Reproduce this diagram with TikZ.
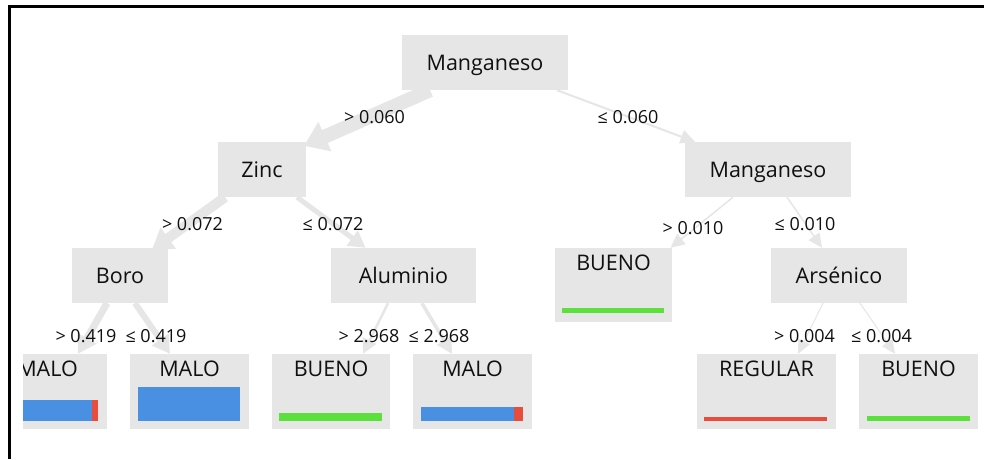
\documentclass[tikz,border=0pt]{standalone}
\usepackage{fontspec}
\setmainfont{Open Sans}
\usetikzlibrary{arrows.meta}
\definecolor{boxg}{HTML}{E6E6E6}
\definecolor{edgeg}{HTML}{E6E6E6}
\definecolor{barblue}{HTML}{4A90E2}
\definecolor{barred}{HTML}{E84C3D}
\definecolor{bargreen}{HTML}{5CE03C}
\definecolor{txt}{HTML}{101010}
\begin{document}
\begin{tikzpicture}[x=1pt,y=-1pt,
  innernode/.style={fill=boxg, inner sep=0pt, text=txt,
    font=\fontsize{21.5}{24}\selectfont, text height=15.4pt, text depth=0pt,
    minimum height=55pt},
  leafnode/.style={fill=boxg, inner sep=0pt, text=txt,
    font=\fontsize{21.5}{24}\selectfont, text height=22pt, text depth=53pt},
  elab/.style={inner sep=0pt, text=txt, font=\fontsize{18}{20}\selectfont, anchor=base},
  edgeline/.style={draw=edgeg, line width=#1,
    -{Triangle[length=13pt 0.7, width=11pt 1.4]}}
]
\useasboundingbox (0,0) rectangle (984,459);
\fill[white] (0,0) rectangle (984,459);

\begin{scope}
\clip (23,0) rectangle (984,459);
% nodes
\node[innernode, minimum width=166pt] (root) at (485,62.5) {Manganeso};
\node[innernode, minimum width=88pt] (zinc) at (262,169.5) {Zinc};
\node[innernode, minimum width=166pt] (mangr) at (768,169.5) {Manganeso};
\node[innernode, minimum width=96pt] (boro) at (120,275.5) {Boro};
\node[innernode, minimum width=145pt] (alum) at (403.5,275.5) {Aluminio};
\node[innernode, minimum width=136pt] (ars) at (839,275.5) {Arsénico};
\node[leafnode, text depth=52pt, minimum width=117pt] (buenom) at (613.5,285) {BUENO};
\node[leafnode, minimum width=119pt] (malo1) at (47.5,391.5) {MALO};
\node[leafnode, minimum width=119pt] (malo2) at (189.5,391.5) {MALO};
\node[leafnode, minimum width=118pt] (bueno1) at (331,391.5) {BUENO};
\node[leafnode, minimum width=119pt] (malo3) at (472.5,391.5) {MALO};
\node[leafnode, minimum width=139pt] (regular) at (766.5,391.5) {REGULAR};
\node[leafnode, minimum width=119pt] (buenor) at (918.5,391.5) {BUENO};

% edges
\draw[edgeline=14pt] ([xshift=-55pt]root.south) -- ([xshift=42pt,yshift=-4pt]zinc.north);
\draw[edgeline=2pt] ([xshift=72pt]root.south) -- ([xshift=-73pt]mangr.north);
\draw[edgeline=10pt] ([xshift=-37pt]zinc.south) -- ([xshift=32pt,yshift=-2pt]boro.north);
\draw[edgeline=5pt] ([xshift=35pt]zinc.south) -- ([xshift=-38pt]alum.north);
\draw[edgeline=1.5pt] ([xshift=-35pt]mangr.south) -- ([xshift=57pt]buenom.north);
\draw[edgeline=1.5pt] ([xshift=19pt]mangr.south) -- ([xshift=-17pt]ars.north);
\draw[edgeline=7pt] ([xshift=-13pt]boro.south) -- ([xshift=30.5pt]malo1.north);
\draw[edgeline=6pt] ([xshift=15pt]boro.south) -- ([xshift=-19.5pt]malo2.north);
\draw[edgeline=2.5pt] ([xshift=-15.5pt]alum.south) -- ([xshift=32pt]bueno1.north);
\draw[edgeline=3.5pt] ([xshift=18.5pt]alum.south) -- ([xshift=-20.5pt]malo3.north);
\draw[edgeline=1pt] ([xshift=-16pt]ars.south) -- ([xshift=31.5pt]regular.north);
\draw[edgeline=1pt] ([xshift=21pt]ars.south) -- ([xshift=-23.5pt]buenor.north);

% bars
\fill[barblue] ([xshift=8pt,yshift=8pt]malo1.south west) rectangle ([xshift=-15pt,yshift=29pt]malo1.south east);
\fill[barred] ([xshift=-15pt,yshift=8pt]malo1.south east) rectangle ([xshift=-9pt,yshift=29pt]malo1.south east);
\fill[barblue] ([xshift=8pt,yshift=8pt]malo2.south west) rectangle ([xshift=-9pt,yshift=42pt]malo2.south east);
\fill[bargreen] ([xshift=7pt,yshift=8pt]bueno1.south west) rectangle ([xshift=-8pt,yshift=16pt]bueno1.south east);
\fill[barblue] ([xshift=8pt,yshift=8pt]malo3.south west) rectangle ([xshift=-18.5pt,yshift=22pt]malo3.south east);
\fill[barred] ([xshift=-18.5pt,yshift=8pt]malo3.south east) rectangle ([xshift=-9pt,yshift=22pt]malo3.south east);
\fill[barred] ([xshift=7pt,yshift=8pt]regular.south west) rectangle ([xshift=-9pt,yshift=12pt]regular.south east);
\fill[bargreen] ([xshift=8.5pt,yshift=8pt]buenor.south west) rectangle ([xshift=-8pt,yshift=13pt]buenor.south east);
\fill[bargreen] ([xshift=7pt,yshift=9pt]buenom.south west) rectangle ([xshift=-8pt,yshift=14pt]buenom.south east);

% edge labels
\node[elab] (l1) at (374.5,123) {> 0.060};
\node[elab] (l2) at (628,123) {≤ 0.060};
\node[elab] (l3) at (192.5,230) {> 0.072};
\node[elab] (l4) at (333,230) {≤ 0.072};
\node[elab] (l5) at (693,234) {> 0.010};
\node[elab] (l6) at (805,230) {≤ 0.010};
\node[elab] (l7) at (86,342) {> 0.419};
\node[elab] (l8) at (156,342) {≤ 0.419};
\node[elab] (l9) at (369,342) {> 2.968};
\node[elab] (l10) at (439,342) {≤ 2.968};
\node[elab] (l11) at (804.5,342) {> 0.004};
\node[elab] (l12) at (881.5,342) {≤ 0.004};
\end{scope}

% frame
\draw[line width=2.4pt, black] (9.5,459) -- (9.5,6.5) -- (984,6.5);
\end{tikzpicture}
\end{document}
